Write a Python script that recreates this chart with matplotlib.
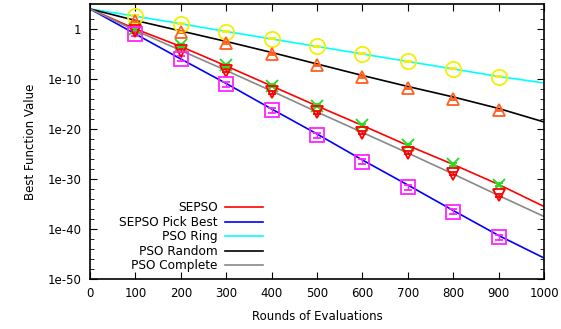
import numpy as np
import matplotlib.pyplot as plt
from matplotlib.ticker import FixedLocator, FixedFormatter, NullFormatter

# log10 of best function value, sampled every 100 rounds
rounds = [0, 100, 200, 300, 400, 500, 600, 700, 800, 900, 1000]
sepso = [4, 0.0, -3.5, -7.4, -11.4, -15.4, -19.3, -23.3, -27.1, -31.1, -35.5]
sepso_best = [4, -1.0, -6.0, -10.9, -16.0, -21.0, -26.2, -31.2, -36.3, -41.3, -45.8]
pso_ring = [4, 2.55, 1.05, -0.5, -2.0, -3.5, -5.0, -6.5, -8.0, -9.5, -10.8]
pso_random = [4, 1.7, -0.4, -2.5, -4.7, -7.0, -9.3, -11.5, -13.6, -15.9, -18.6]
pso_complete = [4, -0.3, -4.3, -8.3, -12.4, -16.6, -20.7, -24.8, -29.0, -33.3, -37.5]

# means and spread (log10) at the checkpoints
check = [100, 200, 300, 400, 500, 600, 700, 800, 900]
sepso_mean = [-0.1, -3.3, -7.3, -11.4, -15.4, -19.3, -23.3, -27.1, -31.2]
sepso_err = [0.3, 0.3, 0.3, 0.3, 0.3, 0.3, 0.3, 0.3, 0.3]
best_mean = [-1.0, -6.0, -11.1, -16.3, -21.3, -26.6, -31.7, -36.6, -41.7]
best_err = [0.5, 0.5, 0.5, 0.5, 0.5, 0.5, 0.5, 0.5, 0.5]
ring_mean = [2.67, 1.07, -0.53, -2.0, -3.47, -5.0, -6.47, -8.0, -9.53]
ring_err = [0.1, 0.1, 0.1, 0.1, 0.1, 0.1, 0.1, 0.1, 0.1]
random_mean = [1.5, -0.6, -2.8, -5.0, -7.3, -9.6, -11.9, -14.1, -16.3]
random_err = [0.15, 0.15, 0.15, 0.15, 0.15, 0.15, 0.15, 0.15, 0.15]
complete_mean = [-0.5, -4.4, -8.4, -12.7, -16.7, -20.8, -24.8, -29.0, -33.3]
complete_err = [0.3, 0.3, 0.3, 0.3, 0.3, 0.3, 0.3, 0.3, 0.3]

plt.rcParams['font.family'] = 'DejaVu Sans'
plt.rcParams['font.size'] = 8.5

fig = plt.figure(figsize=(5.61, 3.29), dpi=100)
ax = fig.add_axes([0.1604, 0.152, 0.8093, 0.836])


def pw(a):
    return 10.0 ** np.array(a)


def errs(mean, err):
    m = np.array(mean)
    e = np.array(err)
    return [pw(m) - pw(m - e), pw(m + e) - pw(m)]


lines = [
    ("SEPSO", sepso, "#ff0000"),
    ("SEPSO Pick Best", sepso_best, "#0000ff"),
    ("PSO Ring", pso_ring, "#00ffff"),
    ("PSO Random", pso_random, "#000000"),
    ("PSO Complete", pso_complete, "#888888"),
]
for label, vals, col in lines:
    ax.plot(rounds, pw(vals), color=col, lw=1.2, label=label)

points = [
    (ring_mean, ring_err, "o", "#f2f000", 11),
    (random_mean, random_err, "^", "#ff6020", 9),
    (sepso_mean, sepso_err, "x", "#22dd22", 8),
    (complete_mean, complete_err, "v", "#ff0000", 9),
    (best_mean, best_err, "s", "#ff22ff", 10),
]
for mean, err, mk, col, ms in points:
    ax.errorbar(check, pw(mean), yerr=errs(mean, err), fmt=mk, color=col,
                mfc="none", mec=col, ms=ms, mew=1.3, elinewidth=1.0,
                capsize=3, capthick=1.0)

ax.set_yscale("log")
ax.set_xlim(0, 1000)
ax.set_ylim(1e-50, 1e5)
ax.set_xticks(range(0, 1001, 100))
major = [1e-50, 1e-40, 1e-30, 1e-20, 1e-10, 1]
ax.yaxis.set_major_locator(FixedLocator(major))
ax.yaxis.set_major_formatter(FixedFormatter(["1e-50", "1e-40", "1e-30", "1e-20", "1e-10", "1"]))
ax.yaxis.set_minor_locator(FixedLocator([10.0 ** k for k in range(-48, 5, 2) if k % 10 != 0]))
ax.yaxis.set_minor_formatter(NullFormatter())
ax.tick_params(which="both", direction="in", top=True, right=True)
ax.tick_params(which="major", length=5, pad=6)
ax.tick_params(which="minor", length=3)
for sp in ax.spines.values():
    sp.set_linewidth(1.2)

ax.set_xlabel("Rounds of Evaluations", labelpad=7)
ax.set_ylabel("Best Function Value", labelpad=8)

ax.legend(loc="lower left", bbox_to_anchor=(0.04, -0.015), frameon=False,
          markerfirst=False, handlelength=3.2, labelspacing=0.12,
          handletextpad=0.6, fontsize=8.7)

fig.savefig("out.png", dpi=100)
